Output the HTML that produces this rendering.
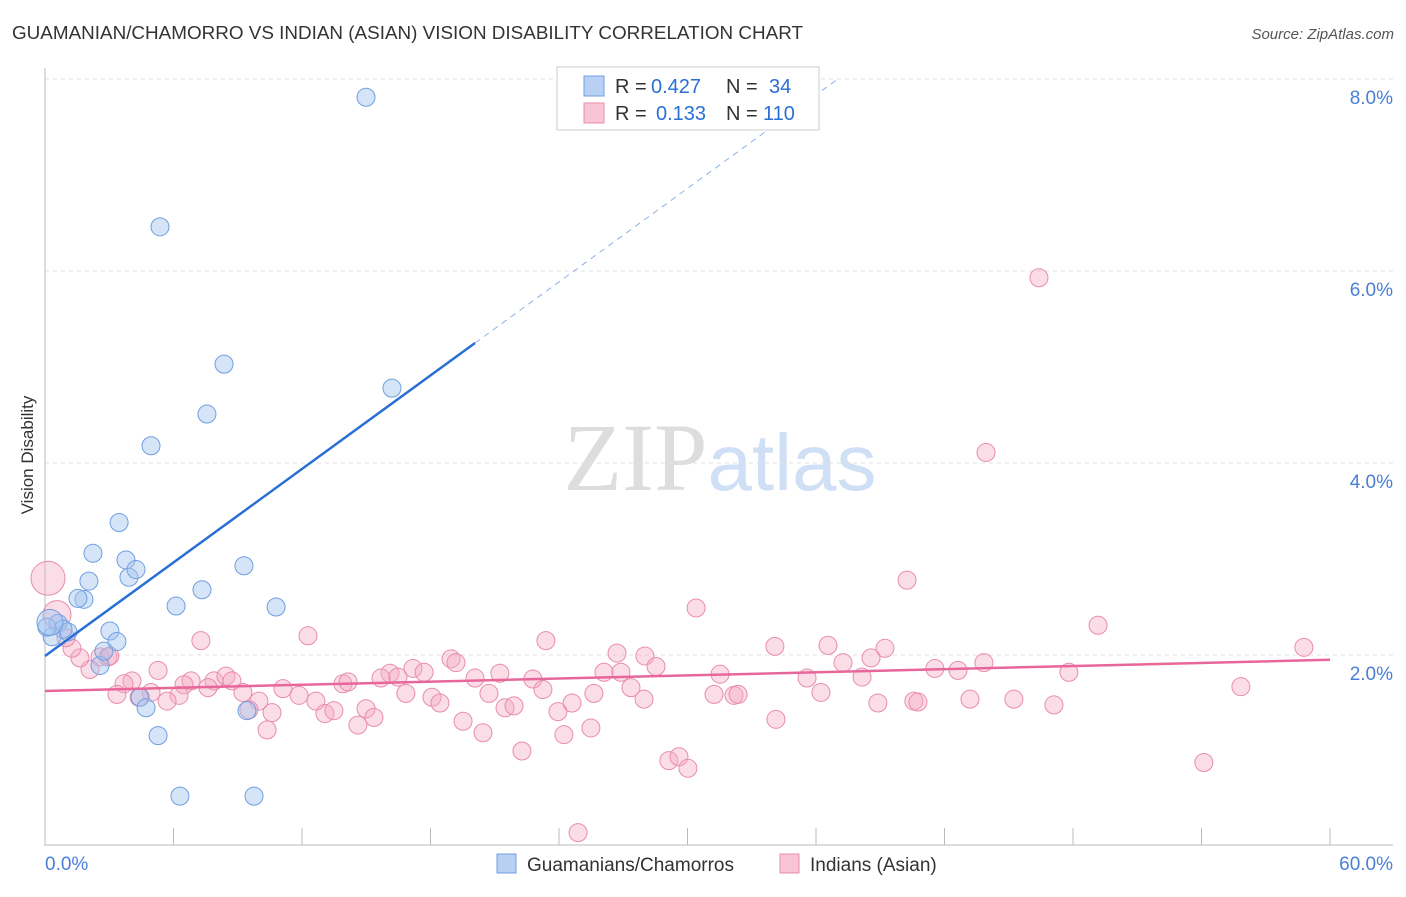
<!DOCTYPE html>
<html><head><meta charset="utf-8"><style>
body{margin:0;background:#fff;font-family:"Liberation Sans",sans-serif;}
svg text{font-family:"Liberation Sans",sans-serif;}
</style></head><body>
<svg id="chart" width="1406" height="892" xmlns="http://www.w3.org/2000/svg">
<text x="12" y="39" font-size="18" fill="#333" textLength="791" lengthAdjust="spacingAndGlyphs">GUAMANIAN/CHAMORRO VS INDIAN (ASIAN) VISION DISABILITY CORRELATION CHART</text>
<text x="1394" y="39" font-size="15" fill="#555" text-anchor="end" font-style="italic">Source: ZipAtlas.com</text>
<text x="720" y="490" font-size="96" text-anchor="middle"><tspan font-family="Liberation Serif" fill="#ddd">ZIP</tspan><tspan fill="#cfdff5" font-size="80">atlas</tspan></text>
<g id="grid"></g><g id="axes"></g><g id="pts"></g><g id="lines"></g>
<text transform="translate(33,455) rotate(-90)" font-size="17" fill="#333" text-anchor="middle">Vision Disability</text>
<g>
<rect x="557" y="67" width="262" height="63" fill="#fff" stroke="#ccc"/>
<rect x="584" y="76" width="20" height="20" fill="#b7d0f3" stroke="#6f9fe0"/>
<rect x="584" y="103" width="20" height="20" fill="#f8c5d6" stroke="#e98cac"/>
<text x="615" y="93" font-size="20" fill="#333">R =</text>
<text x="651" y="93" font-size="20" fill="#2a6fd6">0.427</text>
<text x="726" y="93" font-size="20" fill="#333">N =</text>
<text x="769" y="93" font-size="20" fill="#2a6fd6">34</text>
<text x="615" y="120" font-size="20" fill="#333">R =</text>
<text x="656" y="120" font-size="20" fill="#2a6fd6">0.133</text>
<text x="726" y="120" font-size="20" fill="#333">N =</text>
<text x="763" y="120" font-size="20" fill="#2a6fd6">110</text>
</g>
<g>
<rect x="497" y="854" width="19" height="19" fill="#b7d0f3" stroke="#6f9fe0"/>
<text x="527" y="871" font-size="19" fill="#333">Guamanians/Chamorros</text>
<rect x="780" y="854" width="19" height="19" fill="#f8c5d6" stroke="#e98cac"/>
<text x="810" y="871" font-size="19" fill="#333">Indians (Asian)</text>
</g>
</svg>
<script>
const xTicks=[0,6,12,18,24,30,36,42,48,54,60];
const yTicks=[2,4,6,8];
const blueX=[14.99,5.37,8.36,16.20,7.56,4.95,3.46,2.24,3.78,9.29,2.05,3.92,4.25,1.82,1.54,6.12,7.33,10.79,3.03,3.36,2.57,2.75,0.61,1.07,0.84,0.33,0.09,4.44,4.72,9.43,5.28,6.30,9.76,0.23];
const blueY=[7.81,6.46,5.03,4.78,4.51,4.18,3.38,3.06,2.99,2.93,2.77,2.81,2.89,2.58,2.59,2.51,2.68,2.50,2.25,2.14,1.89,2.04,2.33,2.24,2.27,2.19,2.29,1.56,1.45,1.42,1.16,0.53,0.53,2.34];
const pinkX=[0.14,0.56,46.41,43.94,40.25,30.40,49.17,58.78,12.28,7.28,23.39,36.56,39.22,34.08,26.71,28.01,38.57,37.26,18.96,19.19,28.53,43.84,41.55,42.63,47.81,31.52,26.10,26.89,17.18,17.70,16.11,15.69,16.48,21.24,20.08,22.78,23.25,20.73,16.85,18.07,18.44,5.28,4.06,3.69,6.82,7.89,8.45,8.73,6.49,7.61,9.24,9.99,11.11,11.86,12.65,13.91,14.15,13.07,13.49,14.99,15.36,14.61,19.52,20.45,21.48,21.90,23.95,24.61,25.49,24.23,22.27,25.63,27.36,27.97,31.24,32.17,32.36,35.58,36.23,38.15,38.89,40.57,40.76,43.19,45.24,47.11,55.84,34.13,29.13,29.60,30.02,54.11,24.89,4.95,4.39,3.36,6.26,5.70,10.60,10.37,9.52,2.57,2.94,2.10,1.63,1.26,0.98,3.03];
const pinkY=[2.80,2.42,5.93,4.11,2.78,2.49,2.31,2.08,2.20,2.15,2.15,2.10,2.07,2.09,2.02,1.99,1.97,1.92,1.96,1.92,1.88,1.92,1.86,1.84,1.82,1.80,1.82,1.82,1.86,1.82,1.81,1.76,1.77,1.81,1.76,1.75,1.64,1.60,1.60,1.56,1.50,1.84,1.73,1.70,1.73,1.73,1.78,1.73,1.69,1.66,1.61,1.52,1.65,1.58,1.52,1.70,1.72,1.39,1.42,1.44,1.35,1.27,1.31,1.19,1.45,1.47,1.41,1.50,1.24,1.17,1.00,1.60,1.66,1.54,1.59,1.58,1.59,1.76,1.61,1.77,1.50,1.52,1.51,1.54,1.54,1.48,1.67,1.33,0.90,0.94,0.82,0.88,0.15,1.61,1.56,1.59,1.58,1.52,1.40,1.22,1.43,1.98,1.98,1.85,1.97,2.07,2.18,1.99];
const blueTrend=[1.99,5.25,20.08];
const blueSlope=(5.25-1.99)/20.08;
const pinkTrend=[1.625,1.95];
const NS="http://www.w3.org/2000/svg";
const sx=v=>45+v*1285/60, sy=v=>847-v*96;
function mk(t,a,p){const e=document.createElementNS(NS,t);for(const k in a)e.setAttribute(k,a[k]);p.appendChild(e);return e;}
const grid=document.getElementById('grid'),axes=document.getElementById('axes'),pts=document.getElementById('pts'),lines=document.getElementById('lines');
yTicks.forEach(v=>{
 const l=mk('line',{x1:45,x2:1393,y1:sy(v),y2:sy(v),stroke:'#e2e2e2','stroke-dasharray':'4,4'},grid);
 
 
 const t=mk('text',{x:1393,y:sy(v)+25,'font-size':19,fill:'#4a7fd6','text-anchor':'end'},axes);
 t.textContent=v.toFixed(1)+'%';
 
 
});
mk('line',{x1:45,x2:45,y1:68,y2:846,stroke:'#bbb'},axes);
mk('line',{x1:45,x2:1393,y1:845,y2:845,stroke:'#bbb'},axes);
xTicks.forEach(v=>{
 const l=mk('line',{x1:sx(v),x2:sx(v),y1:828,y2:845,stroke:'#bbb'},axes);
 
 
});
[[0,'start'],[60,'end']].forEach(([v,a])=>{
 const t=mk('text',{x:v==0?45:1393,y:870,'font-size':19,fill:'#4a7fd6','text-anchor':a},axes);
 t.textContent=v.toFixed(1)+'%';
 
 
});
pinkX.forEach((x,i)=>{
 const c=mk('circle',{cx:sx(x),cy:sy(pinkY[i]),r:i==0?17:(i==1?14:9),fill:'rgba(244,170,195,0.4)',stroke:'#e98cac','stroke-width':1},pts);
 
 
});
blueX.forEach((x,i)=>{
 const c=mk('circle',{cx:sx(x),cy:sy(blueY[i]),r:i==33?13:9,fill:'rgba(165,196,240,0.45)',stroke:'#6f9fe0','stroke-width':1},pts);
 
 
});
const bEnd=(8.0-blueTrend[0])/blueSlope;
let l1=mk('line',{x1:sx(0),y1:sy(blueTrend[0]),x2:sx(blueTrend[2]),y2:sy(blueTrend[1]),stroke:'#2a6fd6','stroke-width':2.5},lines);


let l2=mk('line',{x1:sx(blueTrend[2]),y1:sy(blueTrend[1]),x2:sx(bEnd),y2:sy(8.0),stroke:'#8fb1e6','stroke-width':1,'stroke-dasharray':'6,5'},lines);


let l3=mk('line',{x1:sx(0),y1:sy(pinkTrend[0]),x2:sx(60),y2:sy(pinkTrend[1]),stroke:'#e8679a','stroke-width':2.5},lines);


</script>
</body></html>
